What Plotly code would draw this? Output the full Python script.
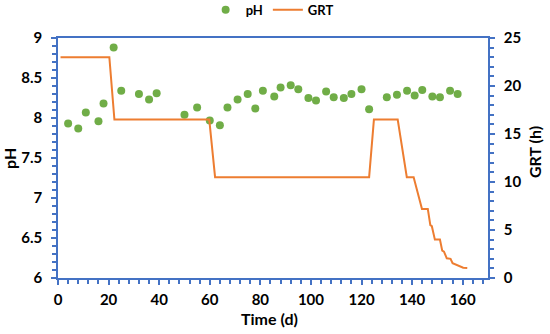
import plotly.graph_objects as go

ph_time = [4, 8, 11, 16, 18, 22, 25, 32, 36, 39, 50, 55, 60, 64, 67, 71, 75, 78, 81, 85.5,
           88, 92, 95, 99, 102, 106, 109, 113, 116, 120, 123, 130, 134, 138, 141, 144, 148, 151, 155, 158]
ph = [7.93, 7.87, 8.07, 7.96, 8.18, 8.88, 8.34, 8.30, 8.23, 8.31, 8.04, 8.13, 7.97, 7.91, 8.13,
      8.23, 8.30, 8.12, 8.34, 8.27, 8.38, 8.41, 8.36, 8.25, 8.22, 8.33, 8.26, 8.25, 8.30, 8.36,
      8.11, 8.26, 8.29, 8.34, 8.28, 8.35, 8.27, 8.26, 8.34, 8.30]

grt_time = [1, 20.3, 22.3, 59.8, 62.1, 123, 124.9, 134.3, 137.9, 140.6, 143.9, 146.2, 147.2, 147.8,
            149, 151, 151.9, 152.6, 153.7, 155.2, 156, 157.6, 158.6, 160.2, 161.8]
grt = [23, 23, 16.5, 16.5, 10.5, 10.5, 16.5, 16.5, 10.5, 10.5, 7.2, 7.2, 5.5, 5.4,
       4.0, 4.0, 2.85, 2.75, 2.05, 2.0, 1.55, 1.35, 1.3, 1.07, 1.05]

x_ticks = [0, 20, 40, 60, 80, 100, 120, 140, 160]

blue = "#4472C4"
font_family = "Lato"

fig = go.Figure()
fig.add_trace(go.Scatter(x=ph_time, y=ph, mode="markers", name="pH",
                         marker=dict(color="#70AD47", size=8), yaxis="y"))
fig.add_trace(go.Scatter(x=grt_time, y=grt, mode="lines", name="GRT",
                         line=dict(color="#ED7D31", width=2), yaxis="y2"))

tickfont = dict(family=font_family, size=15, color="black", weight="bold")
titlefont = dict(family=font_family, size=16, color="black", weight="bold")

common = dict(showgrid=False, zeroline=False, showline=True, linecolor=blue, linewidth=1.5,
              ticks="outside", ticklen=5, tickcolor=blue, tickwidth=1.5,
              tickfont=tickfont, automargin=False)

fig.update_layout(
    width=550, height=334,
    margin=dict(l=58, r=62, t=38, b=56, autoexpand=False),
    paper_bgcolor="white", plot_bgcolor="white",
    showlegend=True,
    legend=dict(orientation="h", x=0.498, xanchor="center", y=1.117, yanchor="middle",
                bgcolor="rgba(0,0,0,0)",
                font=dict(family=font_family, size=13, color="black", weight="bold"),
                itemwidth=30, tracegroupgap=0),
    xaxis=dict(range=[0, 170], tickvals=x_ticks, mirror=True, ticklabelstandoff=2,
               minor=dict(dtick=4, ticks="outside", ticklen=4, tickcolor=blue, tickwidth=1.5),
               **common),
    yaxis=dict(range=[6, 9], dtick=0.5, ticklabelstandoff=6,
               minor=dict(dtick=0.1, ticks="outside", ticklen=4, tickcolor=blue, tickwidth=1.5),
               **common),
    yaxis2=dict(range=[0, 25], dtick=5, overlaying="y", side="right", ticklabelstandoff=6,
                minor=dict(dtick=1, ticks="outside", ticklen=4, tickcolor=blue, tickwidth=1.5),
                **common),
    annotations=[
        dict(text="Time (d)", xref="paper", yref="paper", x=0.493, y=-0.167,
             showarrow=False, font=titlefont, xanchor="center", yanchor="middle"),
        dict(text="pH", xref="paper", yref="paper", x=-0.114, y=0.5, textangle=-90,
             showarrow=False, font=titlefont, xanchor="center", yanchor="middle"),
        dict(text="GRT (h)", xref="paper", yref="paper", x=1.107, y=0.525, textangle=-90,
             showarrow=False, font=titlefont, xanchor="center", yanchor="middle"),
    ],
)

fig.write_html("out.html", config={"displayModeBar": False},
               post_script="document.body.style.margin='0px';")
